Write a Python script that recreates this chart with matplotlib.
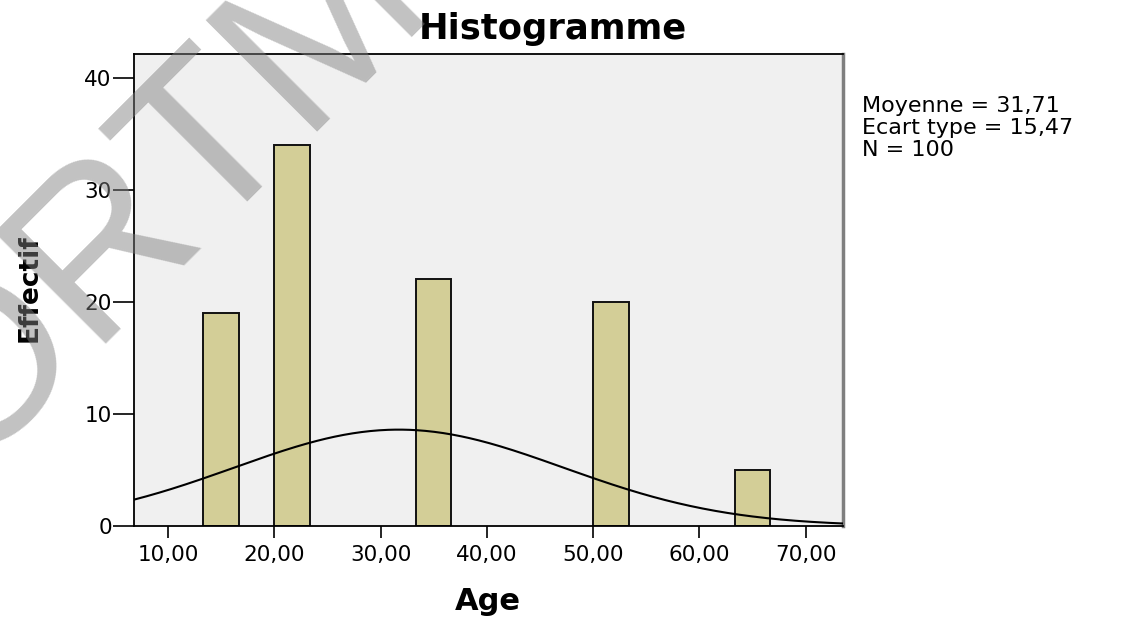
import numpy as np
import matplotlib
matplotlib.use("Agg")
import matplotlib.pyplot as plt

# Age histogram (SPSS-style) with fitted normal curve
bin_centers = [15.0, 21.67, 35.0, 51.67, 65.0]
counts = [19, 34, 22, 20, 5]
bin_width = 50.0 / 15.0

mean_age = 31.71
sd_age = 15.47
n_obs = 100

x_ticks = [10, 20, 30, 40, 50, 60, 70]
x_tick_labels = ["10,00", "20,00", "30,00", "40,00", "50,00", "60,00", "70,00"]
y_ticks = [0, 10, 20, 30, 40]

stats_lines = ["Moyenne = 31,71", "Ecart type = 15,47", "N = 100"]

W, H = 1123, 619
fig = plt.figure(figsize=(W / 100, H / 100), dpi=100)
fig.patch.set_facecolor("white")

ax = fig.add_axes([134 / W, 1 - 526 / H, (843 - 134) / W, (526 - 54) / H])
ax.set_facecolor("#f0f0f0")

ax.bar(bin_centers, counts, width=bin_width, color="#d3ce97",
       edgecolor="#111111", linewidth=1.4, zorder=2)

xlim = (6.8, 73.5)
xs = np.linspace(xlim[0], xlim[1], 400)
pdf = np.exp(-0.5 * ((xs - mean_age) / sd_age) ** 2) / (sd_age * np.sqrt(2 * np.pi))
ax.plot(xs, n_obs * bin_width * pdf, color="black", linewidth=1.5, zorder=3)

ax.set_xlim(*xlim)
ax.set_ylim(0, 42.1)
ax.set_xticks(x_ticks)
ax.set_xticklabels(x_tick_labels)
ax.set_yticks(y_ticks)
ax.tick_params(axis="y", direction="out", length=15, width=1.2, pad=1,
               labelsize=15.5, colors="black")
ax.tick_params(axis="x", direction="out", length=8.5, width=1.2, pad=5,
               labelsize=15.5, colors="black")

for side in ("left", "bottom", "top"):
    ax.spines[side].set_color("black")
    ax.spines[side].set_linewidth(1.3)
ax.spines["right"].set_color("#7f7f7f")
ax.spines["right"].set_linewidth(2.5)

fig.text(553 / W, 1 - 29 / H, "Histogramme", ha="center", va="center",
         fontsize=25.5, fontweight="bold")
fig.text(488 / W, 1 - 601 / H, "Age", ha="center", va="center",
         fontsize=22, fontweight="bold")
fig.text(30 / W, 1 - 288 / H, "Effectif", ha="center", va="center",
         rotation=90, fontsize=19, fontweight="bold")

for i, line in enumerate(stats_lines):
    fig.text(862 / W, 1 - (106 + 22 * i) / H, line, ha="left", va="center",
             fontsize=16)

# Diagonal watermark lettering
fig.text(200 / W, 1 - 238 / H, "ORTM", ha="center", va="baseline",
         rotation=45, rotation_mode="anchor", fontsize=164,
         family="Liberation Sans", fontweight="normal",
         color="#808080", alpha=0.48, zorder=10)

fig.savefig("out.png", dpi=100)
